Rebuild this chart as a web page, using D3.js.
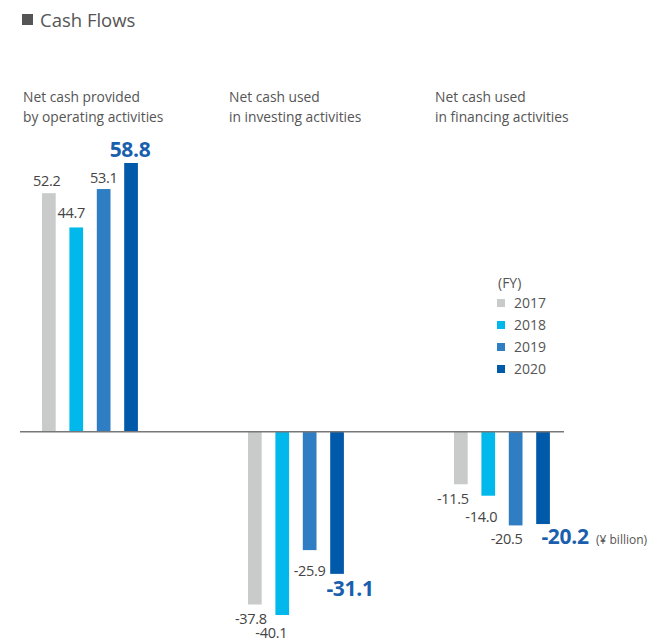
<!DOCTYPE html>
<html>
  <head>
    <title>Cash Flows</title>
    <script src="https://d3js.org/d3.v7.min.js"></script>
    <style>
      body { margin: 0; background: #fff; }
      svg { font-family: "Open Sans", "Noto Sans", sans-serif; }
    </style>
  </head>
  <body>
    <div id="chart"></div>
    <script>
      // Data
      var categories = ["operating", "investing", "financing"];
      var categoryLabels = [
        ["Net cash provided", "by operating activities"],
        ["Net cash used", "in investing activities"],
        ["Net cash used", "in financing activities"]
      ];
      var years = ["2017", "2018", "2019", "2020"];
      var operating = [52.2, 44.7, 53.1, 58.8];
      var investing = [-37.8, -40.1, -25.9, -31.1];
      var financing = [-11.5, -14.0, -20.5, -20.2];
      var colors = ["#c9caca", "#00b8ec", "#2f7dc3", "#0059a9"];

      // label nudges (layout only) [dx, dy] per category / year
      var nudges = [
        [[-2, -7], [-5, -9], [0, -6], [-1, -6]],
        [[-4, 20], [-11, 23], [0, 26], [13, 22]],
        [[-8, 20], [-7, 26], [-9, 19], [22, 20]]
      ];

      var series = [operating, investing, financing];
      var rows = [];
      categories.forEach(function(c, i) {
        years.forEach(function(y, j) {
          rows.push({ cat: c, ci: i, year: y, yi: j, value: series[i][j] });
        });
      });

      var width = 659, height = 640;
      var svg = d3.select("#chart").append("svg")
        .attr("width", width)
        .attr("height", height);

      // scales
      var x0 = d3.scaleBand().domain(categories).range([42, 42 + 206 * 3]);
      var x1 = d3.scaleBand().domain(years).range([0, 95.9]).paddingInner(0.5).paddingOuter(0);
      var y = d3.scaleLinear().domain([-40.1, 58.8]).range([615, 163]);
      var color = d3.scaleOrdinal().domain(years).range(colors);
      var fmt = function(v) { return (v < 0 ? "-" : "") + Math.abs(v).toFixed(1); };

      // title
      svg.append("rect")
        .attr("x", 22).attr("y", 14)
        .attr("width", 11).attr("height", 11)
        .attr("fill", "#555");
      svg.append("text")
        .attr("x", 40).attr("y", 27)
        .attr("font-size", 18.5)
        .attr("fill", "#555")
        .text("Cash Flows");

      // category headings
      categories.forEach(function(c, i) {
        var t = svg.append("text")
          .attr("x", x0(c) - 19)
          .attr("y", 102)
          .attr("font-size", 13.8)
          .attr("fill", "#555");
        categoryLabels[i].forEach(function(line, k) {
          t.append("tspan")
            .attr("x", x0(c) - 19)
            .attr("dy", k === 0 ? 0 : 20)
            .text(line);
        });
      });

      // bars
      svg.selectAll("rect.bar")
        .data(rows)
        .enter()
        .append("rect")
        .attr("class", "bar")
        .attr("x", function(d) { return x0(d.cat) + x1(d.year); })
        .attr("y", function(d) { return y(Math.max(0, d.value)); })
        .attr("width", x1.bandwidth())
        .attr("height", function(d) { return Math.abs(y(d.value) - y(0)); })
        .attr("fill", function(d) { return color(d.year); });

      // zero line
      svg.append("line")
        .attr("x1", 20).attr("x2", 564)
        .attr("y1", y(0)).attr("y2", y(0))
        .attr("stroke", "#777")
        .attr("stroke-width", 1.5);

      // value labels
      svg.selectAll("text.val")
        .data(rows)
        .enter()
        .append("text")
        .attr("class", "val")
        .attr("text-anchor", "middle")
        .attr("x", function(d) { return x0(d.cat) + x1(d.year) + x1.bandwidth() / 2 + nudges[d.ci][d.yi][0]; })
        .attr("y", function(d) { return y(d.value) + nudges[d.ci][d.yi][1]; })
        .attr("font-size", function(d) { return d.yi === 3 ? 21 : 14.5; })
        .attr("font-weight", function(d) { return d.yi === 3 ? "bold" : "normal"; })
        .attr("letter-spacing", function(d) { return d.yi === 3 ? -0.3 : -0.3; })
        .attr("fill", function(d) { return d.yi === 3 ? "#1a5fae" : "#444"; })
        .text(function(d) { return fmt(d.value); });

      // unit
      var lastFin = rows[rows.length - 1];
      svg.append("text")
        .attr("x", 596)
        .attr("y", y(lastFin.value) + 20)
        .attr("font-size", 12)
        .attr("fill", "#555")
        .text("(¥ billion)");

      // legend
      var legend = svg.append("g").attr("transform", "translate(497,0)");
      legend.append("text")
        .attr("x", 1).attr("y", 288)
        .attr("font-size", 14)
        .attr("fill", "#555")
        .text("(FY)");
      var items = legend.selectAll("g.item")
        .data(years)
        .enter()
        .append("g")
        .attr("class", "item")
        .attr("transform", function(d, i) { return "translate(0," + (303 + i * 22) + ")"; });
      items.append("rect")
        .attr("x", 0).attr("y", -4)
        .attr("width", 8).attr("height", 8)
        .attr("fill", function(d) { return color(d); });
      items.append("text")
        .attr("x", 17).attr("y", 5)
        .attr("font-size", 14)
        .attr("fill", "#555")
        .text(function(d) { return d; });
    </script>
  </body>
</html>
